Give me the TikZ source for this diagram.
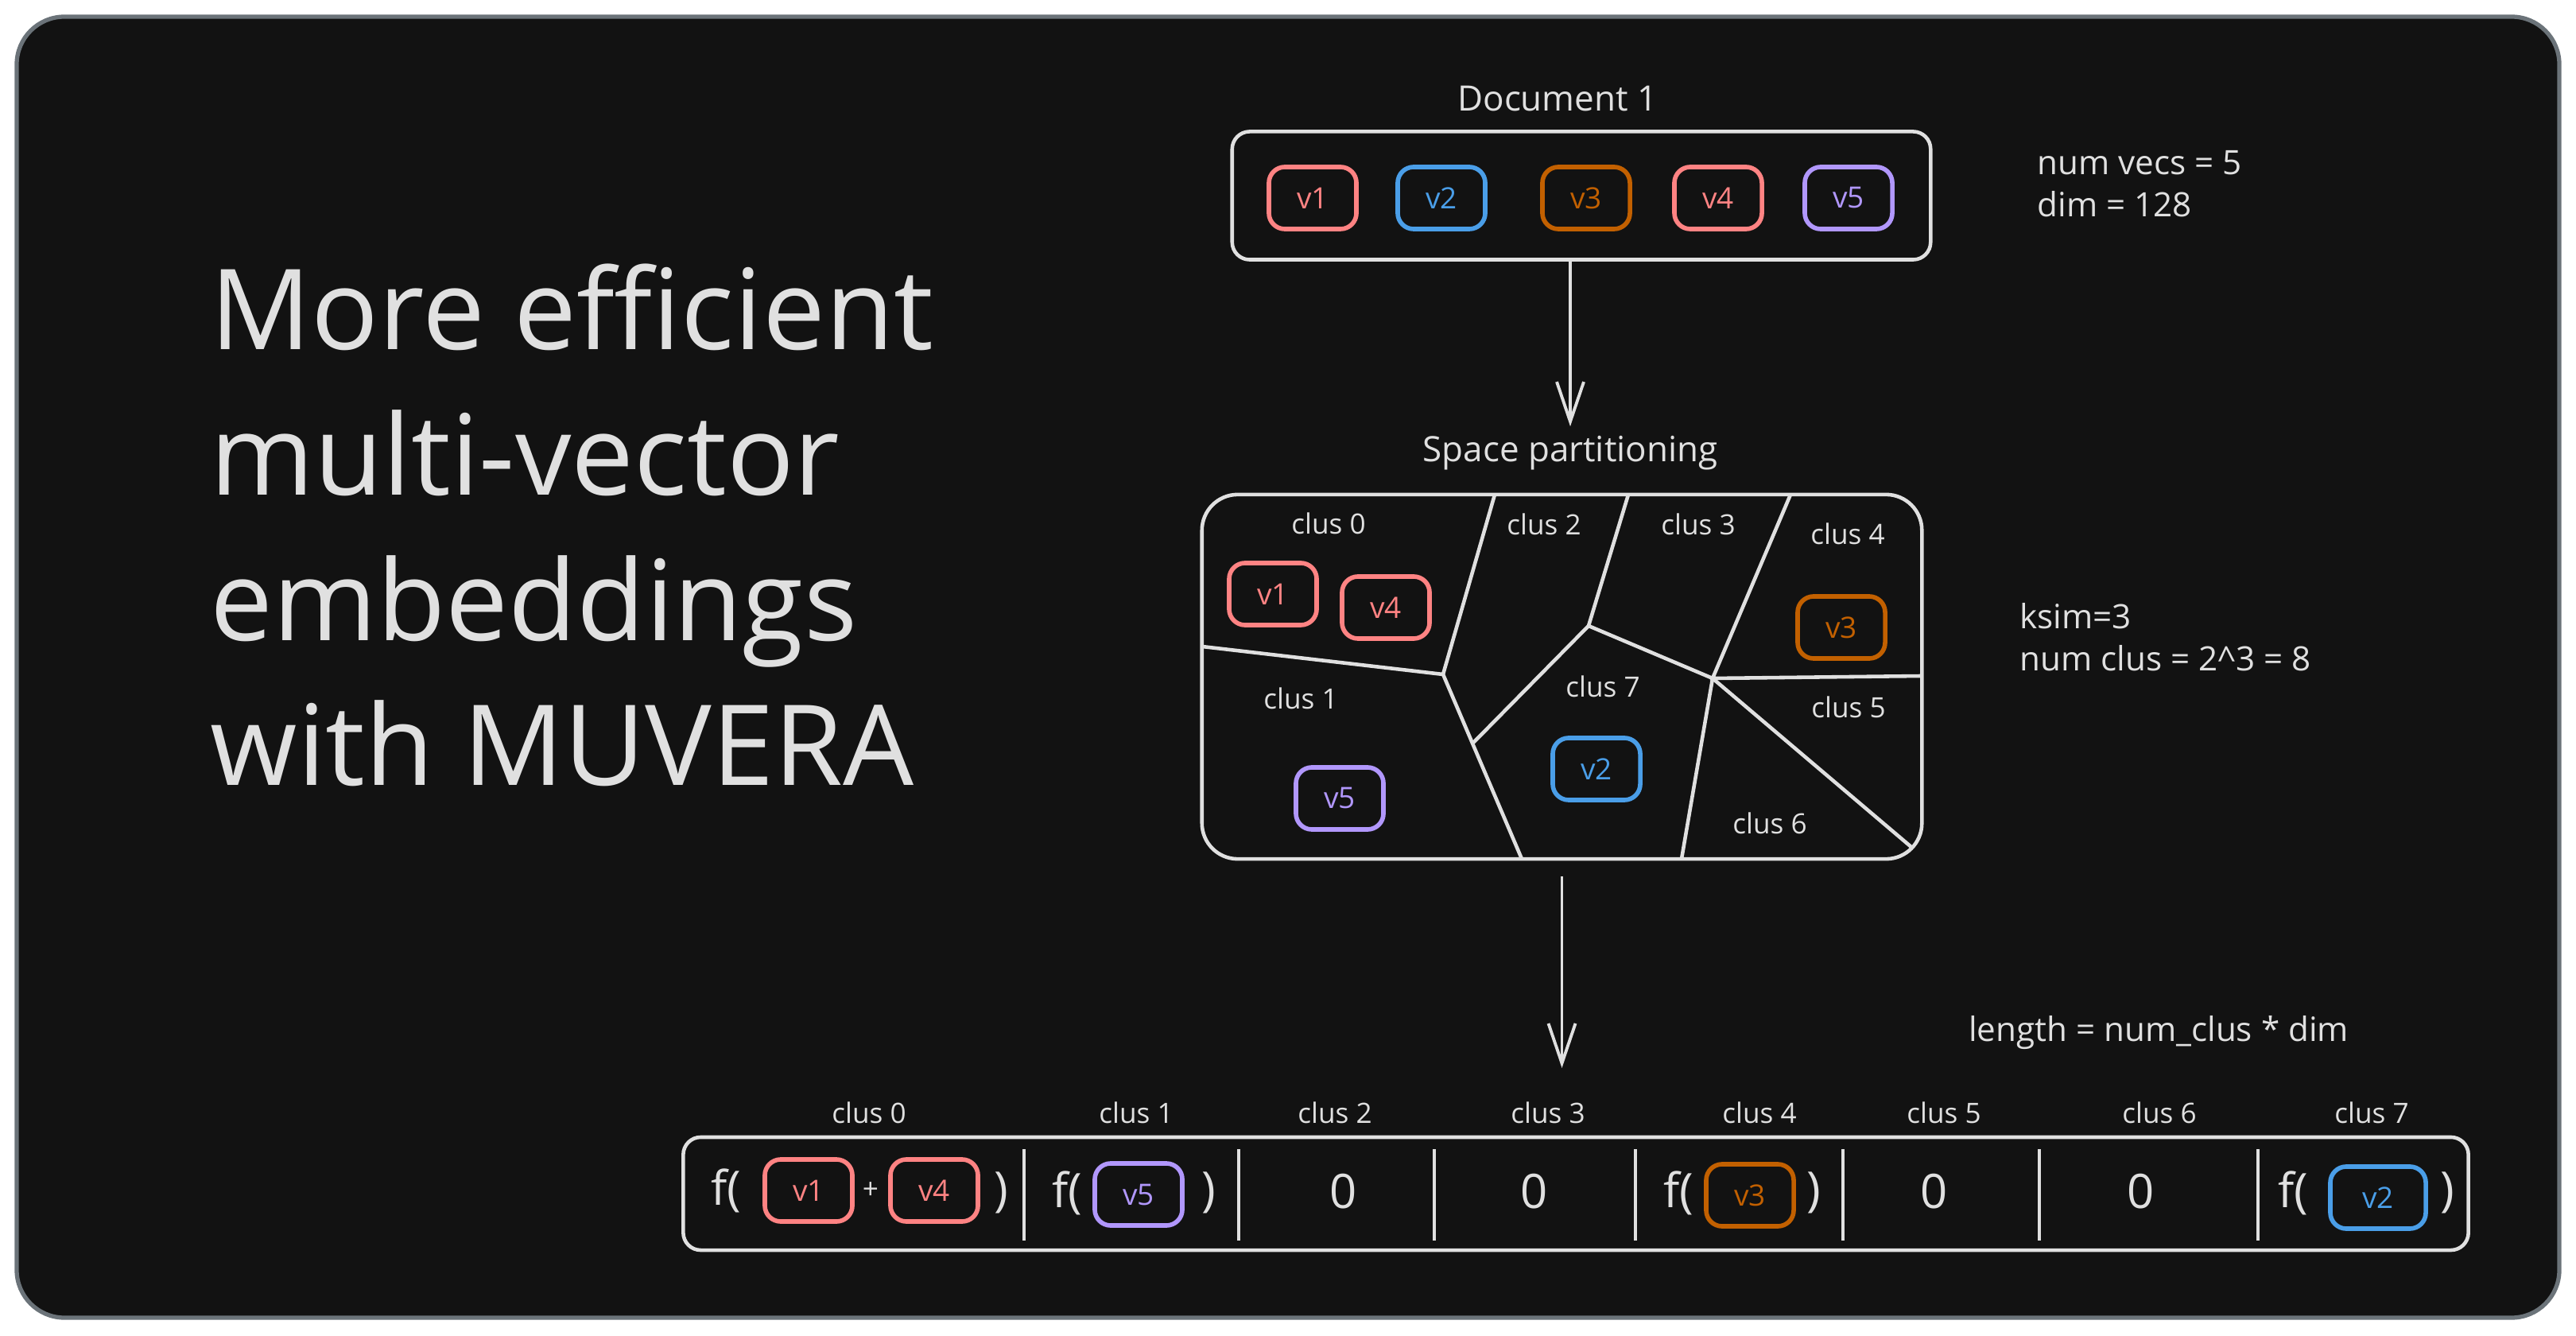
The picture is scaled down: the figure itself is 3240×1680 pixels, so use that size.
\documentclass[tikz,border=0pt]{standalone}
\usepackage{fontspec}
\setmainfont{Open Sans}
\usetikzlibrary{arrows.meta, positioning}

\definecolor{bgdark}{HTML}{121212}
\definecolor{rim}{HTML}{6B7379}
\definecolor{ink}{HTML}{E0E0E0}
\definecolor{vred}{HTML}{FF8383}
\definecolor{vblue}{HTML}{4A9EE8}
\definecolor{vorange}{HTML}{C26000}
\definecolor{vviolet}{HTML}{B197FC}

\tikzset{
  panel/.style={draw=rim, line width=1.5pt, fill=bgdark, rounded corners=6mm},
  outerbox/.style={
    rectangle,
    draw=ink,
    line width=1.3pt,
    rounded corners=2.2mm
  },
  vbox/.style={
    rectangle,
    draw=#1,
    text=#1,
    line width=1.6pt,
    rounded corners=2mm,
    minimum width=11mm,
    minimum height=7.8mm,
    inner sep=0pt,
    font=\fontsize{10.5}{12}\selectfont
  },
  headline/.style={text=ink, font=\fontsize{40}{52}\selectfont, align=left, inner sep=0pt},
  heading/.style={text=ink, font=\fontsize{12.5}{15}\selectfont},
  note/.style={text=ink, font=\fontsize{12}{15}\selectfont, align=left},
  cluslbl/.style={text=ink, font=\fontsize{10}{12}\selectfont},
  big/.style={text=ink, font=\fontsize{17}{20}\selectfont, inner sep=0pt},
  cut/.style={draw=ink, line width=1.3pt},
  cellsep/.style={draw=ink, line width=1.1pt},
  arrow/.style={draw=ink, line width=1.1pt, -{Straight Barb[length=5mm, width=3.4mm]}}
}

\begin{document}
\begin{tikzpicture}[x=0.01cm, y=-0.01cm]
\useasboundingbox (0,0) rectangle (3240,1680);
\fill[white] (0,0) rectangle (3240,1680);
\draw[panel] (21,21) rectangle (3219,1657);

% title
\node[headline, anchor=north west] (title) at (264,331) {More efficient\\multi-vector\\embeddings\\with MUVERA};

% document with its vectors
\node[heading] (doclbl) at (1959,124) {Document 1};
\node[outerbox, minimum width=8.78cm, minimum height=1.61cm] (doc) at (1989,246) {};
\node[vbox=vred] (dv1) at (1651,249) {v1};
\node[vbox=vblue] (dv2) at (1813,249) {v2};
\node[vbox=vorange] (dv3) at (1995,249) {v3};
\node[vbox=vred] (dv4) at (2161,249) {v4};
\node[vbox=vviolet] (dv5) at (2325,249) {v5};
\node[note, anchor=west] (docinfo) at (2550,231) {num vecs = 5\\dim = 128};

% space partitioning
\node[heading] (partlbl) at (1975,570) {Space partitioning};
\node[outerbox, rounded corners=4.5mm, minimum width=9.05cm, minimum height=4.58cm] (part) at (1964.5,851) {};
\coordinate (j1) at (1815,848);
\coordinate (j2) at (1998,787);
\coordinate (j3) at (2154,853);
\coordinate (j4) at (1852,935);
\draw[cut] (1880,622) -- (j1) -- (1512,813);
\draw[cut] (j1) -- (1914,1080);
\draw[cut] (2048,622) -- (j2) -- (j3);
\draw[cut] (j2) -- (j4);
\draw[cut] (2252,622) -- (j3) -- (2417,850);
\draw[cut] (j3) -- (2115,1080);
\draw[cut] (j3) -- (2405,1066);

\node[cluslbl] (pc0) at (1671,658) {clus 0};
\node[cluslbl] (pc2) at (1942,659) {clus 2};
\node[cluslbl] (pc3) at (2136,659) {clus 3};
\node[cluslbl] (pc4) at (2324,671) {clus 4};
\node[cluslbl] (pc1) at (1636,878) {clus 1};
\node[cluslbl] (pc7) at (2016,863) {clus 7};
\node[cluslbl] (pc5) at (2325,889) {clus 5};
\node[cluslbl] (pc6) at (2226,1035) {clus 6};

\node[vbox=vred] (pv1) at (1601,747) {v1};
\node[vbox=vred] (pv4) at (1743,764) {v4};
\node[vbox=vorange] (pv3) at (2316,789) {v3};
\node[vbox=vblue] (pv2) at (2008,967) {v2};
\node[vbox=vviolet] (pv5) at (1685,1004) {v5};
\node[note, anchor=west] (clusinfo) at (2528,801) {ksim=3\\num clus = 2\textasciicircum3 = 8};

% fixed dimensional encoding
\node[note] (lenlbl) at (2715,1299) {length = num\_clus * dim};
\node[outerbox, minimum width=22.44cm, minimum height=1.42cm] (bar) at (1982,1501) {};
\foreach \i/\x in {0/1093, 1/1429, 2/1679, 3/1947, 4/2213, 5/2445, 6/2716, 7/2983}
  \node[cluslbl] (bc\i) at (\x,1399) {clus \i};
\foreach \x in {1288,1558,1804,2057,2318,2565,2840}
  \draw[cellsep] (\x,1445) -- (\x,1560);

\node[big] (f0) at (913,1497) {f(};
\node[vbox=vred] (bv1) at (1017,1497) {v1};
\node[cluslbl] (plus) at (1095,1497) {+};
\node[vbox=vred] (bv4) at (1175,1497) {v4};
\node[big] (e0) at (1259,1500) {)};
\node[big] (f1) at (1342,1500) {f(};
\node[vbox=vviolet] (bv5) at (1432,1502) {v5};
\node[big] (e1) at (1520,1500) {)};
\node[big] (f4) at (2111,1500) {f(};
\node[vbox=vorange] (bv3) at (2201,1503) {v3};
\node[big] (e4) at (2281,1500) {)};
\node[big] (f7) at (2884,1500) {f(};
\node[vbox=vblue, minimum width=12mm] (bv2) at (2991,1506) {v2};
\node[big] (e7) at (3078,1500) {)};
\foreach \x in {1690,1930,2433,2693}
  \node[big] (zero\x) at (\x,1498) {0};

% flow
\draw[arrow] (doc.south -| partlbl) -- (partlbl.north);
\draw[arrow, shorten <=2mm, shorten >=3mm] (part.south) -- (part.south |- bc3.north);
\end{tikzpicture}
\end{document}
